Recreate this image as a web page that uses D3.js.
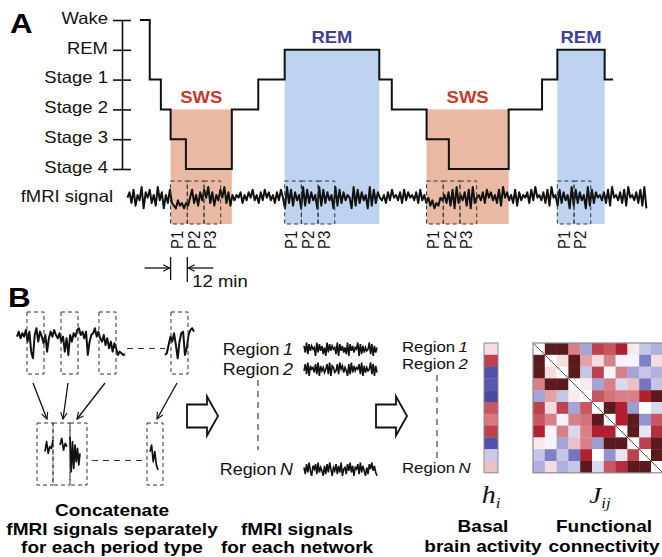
<!DOCTYPE html>
<html>
<head>
<meta charset="utf-8">
<script src="https://cdn.jsdelivr.net/npm/d3@7"></script>
<style>
  body { margin: 0; background: #fff; }
  svg  { display: block; }
</style>
</head>
<body>
<div id="fig"></div>
<script>
// ── DATA ─────────────────────────────────────────────────────────────────────
const stages = ['Wake', 'REM', 'Stage 1', 'Stage 2', 'Stage 3', 'Stage 4'];

// hypnogram: stage held from start minute until next start
const hypnoStage = ['Wake', 'Stage 1', 'Stage 2', 'Stage 3', 'Stage 4', 'Stage 2', 'Stage 1', 'REM',
                    'Stage 1', 'Stage 2', 'Stage 3', 'Stage 4', 'Stage 2', 'Stage 1', 'REM', 'Stage 1'];
const hypnoStart = [0, 7, 15, 22, 33, 66, 85, 104, 172, 181, 206, 222, 265, 289, 300, 334];
const hypnoEnd   = 340;

const periodType  = ['SWS', 'REM', 'SWS', 'REM'];
const periodStart = [22, 104, 206, 300];
const periodEnd   = [66, 172, 265, 334];
const periodTop   = ['Stage 2', 'REM', 'Stage 2', 'REM'];
const periodCount = [3, 3, 3, 2];
const P_LEN = 12; // minutes per period box

const traceStart = -9, traceEnd = 364;
const fmriTrace = (
  '5738264917583629471638' + '321423132' + '5836274859372648593726' +
  '4657364758463748574637485' + '19382746192837461928374619283746519283746192837' +
  '54637485647384756473846' + '3524132546372819364728193' +
  '5647385746382957463827465738495647382956' + '28374619283746192837' +
  '5647382956473829564738291'
).split('').map(Number);

// panel B: raw signal pieces
const traceB1 = [0.5, 2, 0, 1.5, 0.5, 2.5, -1, 2, -4, -6, 1, 3, -1, 2, 0.5, -1.5, 1, -4, 0, 2, 0.5, 2.5,
                 1, 0, 1.5, -1, 0.5, -4, 0, -5, 1, -1, 1.5, 0.5, 2.5, 3, 1, 2, 0, 2, -5, -1, 1, 1.5, 3,
                 0.5, 2, 0, -1, 1, -2, 0, -3, -1, -4, -1.5, -3, -5, -4, -4.5, -5, -4.8];
const traceB2 = [-5, -4.5, -2, 0.5, -1, 1.5, -2, -6, -1, 1.5, 2, -5, -3, 1, 2.5, 3, 2];

const cutA = [-1.5, 1.5, -2, 0, -0.5, 2];
const cutB = [0.5, 2.5, -1, 1, 0];
const cutC = [3, -7.5, 1.5, -6.5, 0.5, -4.5, -0.5, -5.5, -2];
const cutD = [-1.5, 0.5, -4.5, -1.5, -5.5, -7];

const region1 = '7392847561938472619384756291847362918473659182736459281736'.split('').map(Number);
const region2 = '4829175638291746358291763482957364182937465829173645928173'.split('').map(Number);
const regionN = '6283941758293641728395164827391562849371658293741628594731'.split('').map(Number);

// basal activity h_i and connectivity J_ij (symmetric)
const hValues = [0.12, 0.68, -0.85, -0.8, -0.9, 0.6, 0.47, 0.68, -0.85, -0.2, 0.22];
const jValues = [
  [0, 1, 1, 0.45, -0.36, 0.68, 0.6, 0.8, 0.07, -0.22, -0.3],
  [1, 0, 0.12, 1, 0.33, 0.12, 0.45, -0.04, -0.04, -0.55, 0.12],
  [1, 0.12, 0, 1, -0.22, 0.68, -0.04, 0.45, -0.36, -0.22, -0.3],
  [0.45, 1, 1, 0, 0.07, -0.36, 0.45, -0.15, 0.22, -0.62, -0.22],
  [-0.36, 0.33, -0.22, 0.07, 0, 0.6, 0.5, 0.45, 0.45, 0.8, 1],
  [0.68, 0.12, 0.68, -0.36, 0.6, 0, 1, 0.8, -0.4, 0, -0.15],
  [0.6, 0.45, -0.04, 0.45, 0.5, 1, 0, 0.8, 1, -0.45, 0.6],
  [0.8, -0.04, 0.45, -0.15, 0.45, 0.8, 0.8, 0, 1, -0.1, 0.75],
  [0.07, -0.04, -0.36, 0.22, 0.45, -0.4, 1, 1, 0, 0.68, 1],
  [-0.22, -0.55, -0.22, -0.62, 0.8, 0, -0.45, -0.1, 0.68, 0, 1],
  [-0.3, 0.12, -0.3, -0.22, 1, -0.15, 0.6, 0.75, 1, 1, 0]
];

// ── STYLE ────────────────────────────────────────────────────────────────────
const SANS  = '"Liberation Sans", Arial, Helvetica, sans-serif';
const SERIF = '"Liberation Serif", "DejaVu Serif", serif';
const SX = 1.12; // the figure's lettering is slightly wide
const FILL = { SWS: '#e9b9a3', REM: '#bdd3f0' };
const INK  = { SWS: '#c4392c', REM: '#3c3f99' };

const color = d3.scaleLinear()
  .domain([-1, -0.55, -0.3, 0, 0.45, 0.8, 1])
  .range(['#3a3a9a', '#8080c8', '#b0b0dc', '#ffffff', '#d88088', '#b02030', '#5a1a1e']);

// ── SVG ──────────────────────────────────────────────────────────────────────
const svg = d3.select('#fig').append('svg')
  .attr('width', 662)
  .attr('height', 557);

svg.append('defs').append('marker')
  .attr('id', 'head')
  .attr('viewBox', '0 0 10 10')
  .attr('refX', 9).attr('refY', 5)
  .attr('markerWidth', 8).attr('markerHeight', 8)
  .attr('markerUnits', 'userSpaceOnUse')
  .attr('orient', 'auto')
  .append('path')
    .attr('d', 'M1,1L9,5L1,9')
    .attr('fill', 'none')
    .attr('stroke', '#111')
    .attr('stroke-width', 1.4);

function txt(g, x, y, s, o = {}) {
  const t = g.append('text')
    .attr('transform', `translate(${x},${y}) scale(${SX},1)` + (o.rotate ? ` rotate(${o.rotate})` : ''))
    .attr('text-anchor', o.anchor || 'start')
    .attr('font-family', o.family || SANS)
    .attr('font-size', o.size || 16)
    .attr('font-weight', o.weight || 'normal')
    .attr('fill', o.fill || '#111');
  if (o.dy) t.attr('dy', o.dy);
  if (s) t.text(s);
  return t;
}

function dashedBox(g, x0, x1, y0, y1) {
  g.append('rect')
    .attr('x', x0).attr('y', y0)
    .attr('width', x1 - x0).attr('height', y1 - y0)
    .attr('fill', 'none')
    .attr('stroke', '#333')
    .attr('stroke-width', 1)
    .attr('stroke-dasharray', '4,3');
}

function dashedLine(g, x1, y1, x2, y2, dash) {
  g.append('line')
    .attr('x1', x1).attr('y1', y1).attr('x2', x2).attr('y2', y2)
    .attr('stroke', '#333')
    .attr('stroke-width', 1.1)
    .attr('stroke-dasharray', dash || '6,5');
}

// ── PANEL A ──────────────────────────────────────────────────────────────────
const gA = svg.append('g');
const xA = d3.scaleLinear().domain([0, hypnoEnd]).range([140, 613]);
const yA = d3.scalePoint().domain(stages).range([20, 169]);
const BOX_Y0 = 181, BOX_Y1 = 224;

txt(gA, 10, 33, 'A', { size: 28, weight: 'bold', fill: '#000' });

// shaded sleep periods
periodType.forEach((p, i) => {
  gA.append('rect')
    .attr('x', xA(periodStart[i]))
    .attr('y', yA(periodTop[i]))
    .attr('width', xA(periodEnd[i]) - xA(periodStart[i]))
    .attr('height', BOX_Y1 - yA(periodTop[i]))
    .attr('fill', FILL[p]);
  txt(gA, xA((periodStart[i] + periodEnd[i]) / 2), yA(periodTop[i]) - 6.5, p,
      { size: 16.5, weight: 'bold', anchor: 'middle', fill: INK[p] });
});

// stage axis
const axA = gA.append('g')
  .attr('transform', 'translate(122,0)')
  .call(d3.axisLeft(yA).tickSize(9).tickSizeOuter(0).tickPadding(5));
axA.select('.domain').attr('stroke', '#111').attr('stroke-width', 1.6);
axA.selectAll('.tick line').attr('x1', 9).attr('stroke', '#111').attr('stroke-width', 1.6);
axA.selectAll('.tick text')
  .attr('font-family', SANS)
  .attr('font-size', 16.5)
  .attr('fill', '#111')
  .attr('transform', `scale(${SX},1)`)
  .attr('x', -14 / SX)
  .attr('dy', '0.2em');

// hypnogram
const hypnoPts = hypnoStage.map((s, i) => ({ t: hypnoStart[i], s }));
hypnoPts.push({ t: hypnoEnd, s: hypnoStage[hypnoStage.length - 1] });
gA.append('path')
  .attr('d', d3.line().x(d => xA(d.t)).y(d => yA(d.s)).curve(d3.curveStepAfter)(hypnoPts))
  .attr('fill', 'none')
  .attr('stroke', '#111')
  .attr('stroke-width', 2);

// fMRI trace
txt(gA, 113, 202, 'fMRI signal', { size: 16.5, anchor: 'end' });
const xT = d3.scaleLinear().domain([0, fmriTrace.length - 1]).range([xA(traceStart), xA(traceEnd)]);
const yT = d3.scaleLinear().domain([0, 9]).range([211, 187]);
gA.append('path')
  .attr('d', d3.line().x((d, i) => xT(i)).y(d => yT(d))(fmriTrace))
  .attr('fill', 'none')
  .attr('stroke', '#111')
  .attr('stroke-width', 2)
  .attr('stroke-linejoin', 'round');

// period boxes and labels
periodType.forEach((p, i) => {
  d3.range(periodCount[i]).forEach(k => {
    const t0 = periodStart[i] + k * P_LEN;
    dashedBox(gA, xA(t0), xA(t0 + P_LEN), BOX_Y0, BOX_Y1);
    txt(gA, xA(t0 + P_LEN / 2) - 2, 249, 'P' + (k + 1), { size: 15, rotate: -90, dy: '0.35em' });
  });
});

// 12 min annotation
const mA = xA(periodStart[0]), mB = xA(periodStart[0] + P_LEN);
[[mA, 257, mA, 280], [mB, 257, mB, 282]].forEach(l => {
  gA.append('line')
    .attr('x1', l[0]).attr('y1', l[1]).attr('x2', l[2]).attr('y2', l[3])
    .attr('stroke', '#111').attr('stroke-width', 1.3);
});
gA.append('line')
  .attr('x1', mA - 26).attr('y1', 268).attr('x2', mA - 1).attr('y2', 268)
  .attr('stroke', '#111').attr('stroke-width', 1.3).attr('marker-end', 'url(#head)');
gA.append('line')
  .attr('x1', mB + 26).attr('y1', 268).attr('x2', mB + 1).attr('y2', 268)
  .attr('stroke', '#111').attr('stroke-width', 1.3).attr('marker-end', 'url(#head)');
txt(gA, mB + 5, 287, '12 min', { size: 16.5 });

// ── PANEL B ──────────────────────────────────────────────────────────────────
const gB = svg.append('g');
txt(gB, 8, 307, 'B', { size: 28, weight: 'bold', fill: '#000' });

// raw signal with chosen periods
const yB = d3.scaleLinear().domain([-6, 3]).range([358.3, 328.3]);
const xB1 = d3.scaleLinear().domain([0, traceB1.length - 1]).range([17, 125]);
const xB2 = d3.scaleLinear().domain([0, traceB2.length - 1]).range([165, 194]);
[[traceB1, xB1], [traceB2, xB2]].forEach(([v, xs]) => {
  gB.append('path')
    .attr('d', d3.line().x((d, i) => xs(i)).y(d => yB(d))(v))
    .attr('fill', 'none').attr('stroke', '#111').attr('stroke-width', 2)
    .attr('stroke-linejoin', 'round');
});
dashedLine(gB, 127, 348.5, 165, 348.5);

const topBoxes = [27, 61, 99, 171];
topBoxes.forEach(x => dashedBox(gB, x, x + 17, 312, 374));

// arrows to concatenated pieces
[[33, 383, 47, 419], [68, 383, 63, 419], [105, 383, 77, 419], [177, 383, 157, 419]].forEach(a => {
  gB.append('line')
    .attr('x1', a[0]).attr('y1', a[1]).attr('x2', a[2]).attr('y2', a[3])
    .attr('stroke', '#111').attr('stroke-width', 1.3).attr('marker-end', 'url(#head)');
});

const botBoxes = [[37, 53], [53, 70], [70, 87], [147, 163]];
botBoxes.forEach(b => dashedBox(gB, b[0], b[1], 423, 485));
dashedLine(gB, 92, 460.5, 143, 460.5);

const yS = d3.scaleLinear().domain([-7.5, 3]).range([471.7, 436.7]);
[[cutA, 45, 53], [cutB, 60, 67], [cutC, 70, 80], [cutD, 150, 158]].forEach(([v, x0, x1]) => {
  const xs = d3.scaleLinear().domain([0, v.length - 1]).range([x0, x1]);
  gB.append('path')
    .attr('d', d3.line().x((d, i) => xs(i)).y(d => yS(d))(v))
    .attr('fill', 'none').attr('stroke', '#111').attr('stroke-width', 1.7)
    .attr('stroke-linejoin', 'round');
});

// block arrows
function blockArrow(x0, yc) {
  const p = d3.path();
  p.moveTo(x0, yc - 11.5);
  p.lineTo(x0 + 20, yc - 11.5);
  p.lineTo(x0 + 20, yc - 19.5);
  p.lineTo(x0 + 31, yc);
  p.lineTo(x0 + 20, yc + 19.5);
  p.lineTo(x0 + 20, yc + 11.5);
  p.lineTo(x0, yc + 11.5);
  p.closePath();
  gB.append('path').attr('d', p.toString())
    .attr('fill', '#fff').attr('stroke', '#111').attr('stroke-width', 1.8)
    .attr('stroke-linejoin', 'miter');
}
blockArrow(187, 416);
blockArrow(376, 416);

// region signals
function regionLabel(x, y, num, anchor, size) {
  const t = txt(gB, x, y, '', { anchor, size });
  t.append('tspan').text('Region\u2009');
  t.append('tspan').attr('font-style', 'italic').text(num);
}
const regionTraces = [region1, region2, regionN];
const regionNames  = ['1', '2', 'N'];
const midY = [355, 375, 475];
const traceY = [350, 370, 470];
regionTraces.forEach((v, r) => {
  regionLabel(293, midY[r], regionNames[r], 'end', 16);
  const xs = d3.scaleLinear().domain([0, v.length - 1]).range([304, 377]);
  const ys = d3.scaleLinear().domain([0, 9]).range([traceY[r] + 7.5, traceY[r] - 7.5]);
  gB.append('path')
    .attr('d', d3.line().x((d, i) => xs(i)).y(d => ys(d))(v))
    .attr('fill', 'none').attr('stroke', '#111').attr('stroke-width', 1.6);
});
dashedLine(gB, 258, 380, 258, 450);

// basal activity column and connectivity matrix
const rightY = [352, 369, 473];
regionNames.forEach((n, r) => regionLabel(402, rightY[r], n, 'start', 15));
dashedLine(gB, 437, 375, 437, 458);

const N = hValues.length;
const CELL = 11.8;
const rows = d3.scaleBand().domain(d3.range(N)).range([343, 343 + N * CELL]);
const cols = d3.scaleBand().domain(d3.range(N)).range([533, 533 + N * CELL]);

gB.selectAll('.h-cell')
  .data(hValues)
  .join('rect')
    .attr('class', 'h-cell')
    .attr('x', 484).attr('width', 14)
    .attr('y', (d, i) => rows(i)).attr('height', rows.bandwidth() + 0.3)
    .attr('fill', d => color(d));
gB.append('rect')
  .attr('x', 484).attr('y', rows(0)).attr('width', 14).attr('height', N * CELL)
  .attr('fill', 'none').attr('stroke', '#8c8c8c').attr('stroke-width', 1);

const jCells = jValues.flatMap((row, i) => row.map((v, j) => ({ i, j, v })));
gB.selectAll('.j-cell')
  .data(jCells)
  .join('rect')
    .attr('class', 'j-cell')
    .attr('x', d => cols(d.j)).attr('width', cols.bandwidth() + 0.3)
    .attr('y', d => rows(d.i)).attr('height', rows.bandwidth() + 0.3)
    .attr('fill', d => color(d.v));
gB.append('line')
  .attr('x1', cols(0)).attr('y1', rows(0))
  .attr('x2', cols(0) + N * CELL).attr('y2', rows(0) + N * CELL)
  .attr('stroke', '#555').attr('stroke-width', 1);
gB.append('rect')
  .attr('x', cols(0)).attr('y', rows(0)).attr('width', N * CELL).attr('height', N * CELL)
  .attr('fill', 'none').attr('stroke', '#8c8c8c').attr('stroke-width', 1.2);

// symbols
const hl = txt(gB, 491, 503, '', { family: SERIF, size: 25, anchor: 'middle' });
hl.append('tspan').attr('font-style', 'italic').text('h');
hl.append('tspan').attr('font-style', 'italic').attr('font-size', 15).attr('dy', 5).text('i');
const jl = txt(gB, 600, 503, '', { family: SERIF, size: 24, anchor: 'middle' });
jl.append('tspan').attr('font-style', 'italic').text('J');
jl.append('tspan').attr('font-style', 'italic').attr('font-size', 15).attr('dy', 5).text('ij');

// captions
const captions = [
  [112, ['Concatenate', 'fMRI signals separately', 'for each period type'], [516, 535, 553]],
  [297, ['fMRI signals', 'for each network'], [535, 553]],
  [483, ['Basal', 'brain activity'], [532, 552]],
  [604, ['Functional', 'connectivity'], [532, 552]]
];
captions.forEach(([x, lines, ys]) => {
  lines.forEach((s, k) => txt(gB, x, ys[k], s, { size: 17, weight: 'bold', anchor: 'middle', fill: '#000' }));
});
</script>
</body>
</html>
